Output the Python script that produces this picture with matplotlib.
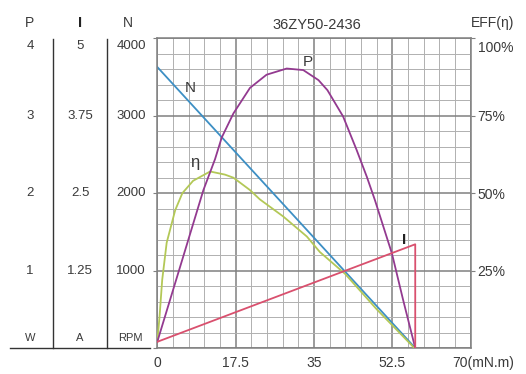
"""
Motor characteristic curves for 36ZY50-2436: speed, current, output power and
efficiency against load torque, with the stacked P / I / N scales on the left.
"""

import matplotlib.pyplot as plt
import matplotlib.transforms as mtransforms
from matplotlib.lines import Line2D
import numpy as np

plt.rcParams["font.family"] = ["Liberation Sans", "DejaVu Sans"]

TITLE = "36ZY50-2436"

# torque axis (mN.m)
X_TICKS = [0, 17.5, 35, 52.5, 70]
X_TICK_LABELS = ["0", "17.5", "35", "52.5", "70(mN.m)"]

# left-hand stacked scales, one row per major gridline
P_LABELS = ["1", "2", "3", "4"]
I_LABELS = ["1.25", "2.5", "3.75", "5"]
N_LABELS = ["1000", "2000", "3000", "4000"]
N_ROWS = [1000, 2000, 3000, 4000]
EFF_TICKS = [25, 50, 75, 100]
EFF_LABELS = ["25%", "50%", "75%", "100%"]

# speed N (rpm)
torque_n = [0, 57.6]
speed = [3630, 0]

# current I (A), dropping to zero at stall
torque_i = [0, 57.6, 57.6]
current = [0.10, 1.675, 0]

# output power P (W)
torque_p = [0, 5.0, 10.3, 12.9, 14.4, 17.0, 20.7, 24.4, 28.9, 32.6, 36.0,
            38.0, 41.5, 44.5, 46.8, 48.6, 52.4, 54.9, 57.6]
power = [0.08, 1.03, 2.04, 2.44, 2.72, 3.03, 3.36, 3.53, 3.61, 3.59, 3.46,
         3.33, 2.99, 2.56, 2.21, 1.91, 1.22, 0.62, 0.0]

# efficiency (%)
torque_eff = [0, 0.5, 1.1, 2.1, 4.0, 5.6, 8.0, 11.8, 15.1, 17.0, 20.7, 22.9,
              28.1, 33.4, 36.3, 41.9, 49.0, 57.4]
efficiency = [2, 10, 22, 34, 44.5, 50, 54, 57, 56, 55, 51, 48,
              42.5, 36, 31, 24, 12.5, 0]

C_N = "#3d8fc4"
C_I = "#d9506e"
C_P = "#933a90"
C_EFF = "#b3c857"
TXT = "#3a3a3a"


def main():
    fig = plt.figure(figsize=(5.26, 3.74), dpi=100)
    ax = fig.add_axes([0.299, 0.0695, 0.596, 0.828])

    ax.set_xlim(0, 70)
    ax.set_ylim(0, 4000)
    ax.set_xticks(X_TICKS)
    ax.set_xticklabels(X_TICK_LABELS)
    ax.set_xticks(np.arange(0, 70.01, 3.5), minor=True)
    ax.set_yticks([0] + N_ROWS)
    ax.set_yticklabels([])
    ax.set_yticks(np.arange(0, 4000.1, 200), minor=True)
    ax.grid(which="minor", color="#b0b0b0", lw=0.7)
    ax.grid(which="major", color="#808080", lw=1.1)
    ax.set_axisbelow(True)
    for sp in ax.spines.values():
        sp.set_color("#808080")
        sp.set_linewidth(1.1)
    ax.tick_params(which="minor", length=0)
    ax.tick_params(axis="x", which="major", length=0, pad=6, labelsize=10, labelcolor=TXT)
    ax.tick_params(axis="y", which="major", length=3, color="#808080")

    # last x label sits to the right of its tick
    lbls = ax.get_xticklabels()
    shift = mtransforms.ScaledTranslation(12 / 100, 0, fig.dpi_scale_trans)
    lbls[-1].set_transform(lbls[-1].get_transform() + shift)

    # twin axes for each scale
    axe = ax.twinx()
    axe.set_ylim(0, 100)
    axe.set_yticks(EFF_TICKS)
    axe.set_yticklabels(EFF_LABELS)
    axe.tick_params(axis="y", length=3, color="#808080", pad=2, labelsize=10, labelcolor=TXT)
    for sp in axe.spines.values():
        sp.set_visible(False)
    down = mtransforms.ScaledTranslation(0, -8 / 100, fig.dpi_scale_trans)
    top_lbl = axe.get_yticklabels()[-1]
    top_lbl.set_transform(top_lbl.get_transform() + down)

    axp = ax.twinx()
    axp.set_ylim(0, 4)
    axp.axis("off")
    axi = ax.twinx()
    axi.set_ylim(0, 5)
    axi.axis("off")

    # curves
    ax.plot(torque_n, speed, color=C_N, lw=1.3)
    axe.plot(torque_eff, efficiency, color=C_EFF, lw=1.3)
    axp.plot(torque_p, power, color=C_P, lw=1.3)
    axi.plot(torque_i, current, color=C_I, lw=1.3)

    ax.text(7.3, 3360, "N", color=TXT, fontsize=11, ha="center", va="center")
    axp.text(33.6, 3.70, "P", color=TXT, fontsize=11, ha="center", va="center")
    axe.text(8.4, 60, "η", color=TXT, fontsize=12, ha="center", va="center")
    axi.text(55.1, 1.75, "I", color="#222222", fontsize=11, fontweight="bold",
             ha="center", va="center")

    # left stacked scales
    blend = mtransforms.blended_transform_factory(fig.transFigure, ax.transData)
    cols = [(30 / 526, P_LABELS), (80 / 526, I_LABELS), (131 / 526, N_LABELS)]
    for x, labels in cols:
        for k, (yv, s) in enumerate(zip(N_ROWS, labels)):
            tr = blend + down if k == len(N_ROWS) - 1 else blend
            fig.text(x, yv, s, transform=tr, ha="center", va="center",
                     fontsize=9.5, color=TXT)

    head_y = 1 - 23 / 374
    fig.text(30 / 526, head_y, "P", ha="center", va="center", fontsize=10, color=TXT)
    fig.text(80 / 526, head_y, "I", ha="center", va="center", fontsize=10.5,
             fontweight="bold", color="#222222")
    fig.text(128 / 526, head_y, "N", ha="center", va="center", fontsize=10, color=TXT)

    unit_y = 1 - 338 / 374
    for x, s in [(30 / 526, "W"), (80 / 526, "A"), (130 / 526, "RPM")]:
        fig.text(x, unit_y, s, ha="center", va="center", fontsize=8, color=TXT)

    y_top = 1 - 39 / 374
    y_bot = 1 - 348 / 374
    for x in [53 / 526, 107 / 526]:
        fig.add_artist(Line2D([x, x], [y_top, y_bot], transform=fig.transFigure,
                              color="#333333", lw=1))
    fig.add_artist(Line2D([10 / 526, 150 / 526], [y_bot, y_bot], transform=fig.transFigure,
                          color="#333333", lw=1))

    fig.text(317 / 526, 1 - 25 / 374, TITLE, ha="center", va="center", fontsize=10.5, color=TXT)
    fig.text(493 / 526, 1 - 23 / 374, "EFF(η)", ha="center", va="center", fontsize=10, color=TXT)

    fig.savefig("out.png", dpi=100)


if __name__ == "__main__":
    main()
